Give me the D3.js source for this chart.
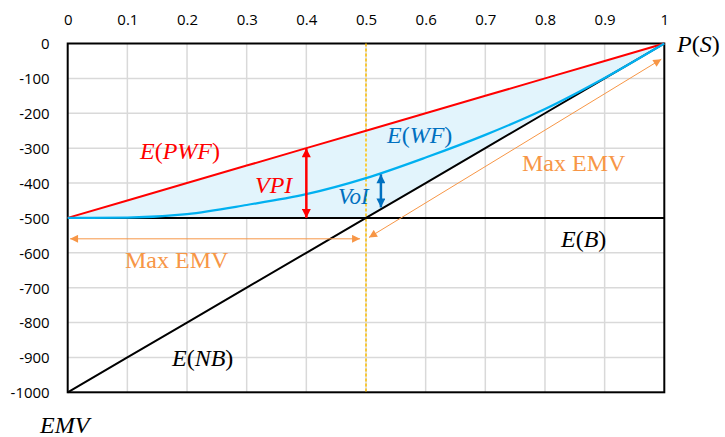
<!DOCTYPE html>
<html>
<head>
<meta charset="utf-8">
<script src="https://cdn.jsdelivr.net/npm/d3@7"></script>
<style>
  body { margin: 0; background: #fff; }
  svg { display: block; }
  .tick text { font-family: "Open Sans", sans-serif; font-size: 15px; fill: #000; }
</style>
</head>
<body>
<svg id="vis" width="725" height="437"></svg>
<script>
// data
var pValues = [0, 0.1, 0.2, 0.3, 0.4, 0.5, 0.6, 0.7, 0.8, 0.9, 1];
var ePWF = [-500, -450, -400, -350, -300, -250, -200, -150, -100, -50, 0];
var eNB  = [-1000, -900, -800, -700, -600, -500, -400, -300, -200, -100, 0];
var eB   = [-500, -500, -500, -500, -500, -500, -500, -500, -500, -500, -500];
var eWF  = [-500, -499, -489, -463, -432, -386, -327, -262, -188, -99, 0];
var xTicks = [0, 0.1, 0.2, 0.3, 0.4, 0.5, 0.6, 0.7, 0.8, 0.9, 1];
var yTicks = [0, -100, -200, -300, -400, -500, -600, -700, -800, -900, -1000];

// arrows: [p1, v1, p2, v2]
var vpiArrow = [0.4, -300, 0.4, -500];
var voiArrow = [0.525, -375, 0.525, -470];
var emvArrowH = [0.004, -560, 0.49, -560];
var emvArrowD = [0.505, -556, 0.995, -45];

var svg = d3.select("#vis");
var x = d3.scaleLinear().domain([0, 1]).range([67.7, 664.3]);
var y = d3.scaleLinear().domain([0, -1000]).range([43.5, 392.3]);

// gridlines
svg.append("g").selectAll("line.gx")
    .data(xTicks.slice(1, -1)).enter().append("line")
    .attr("x1", function(d){ return x(d); }).attr("x2", function(d){ return x(d); })
    .attr("y1", y(0)).attr("y2", y(-1000))
    .attr("stroke", "#d9d9d9").attr("stroke-width", 1.5);
svg.append("g").selectAll("line.gy")
    .data(yTicks.slice(1, -1)).enter().append("line")
    .attr("x1", x(0)).attr("x2", x(1))
    .attr("y1", function(d){ return y(d); }).attr("y2", function(d){ return y(d); })
    .attr("stroke", "#d9d9d9").attr("stroke-width", 1.5);

// axes (labels only)
var xAxis = svg.append("g").attr("transform", "translate(0," + (y(0) - 16) + ")")
    .call(d3.axisTop(x).tickValues(xTicks).tickSize(0).tickFormat(function(d){ return String(d); }));
xAxis.select(".domain").remove();
var yAxis = svg.append("g").attr("transform", "translate(" + (x(0) - 15) + ",0)")
    .call(d3.axisLeft(y).tickValues(yTicks).tickSize(0).tickFormat(function(d){ return String(d); }));
yAxis.select(".domain").remove();
yAxis.selectAll("text").attr("dy", "0.36em");

// shaded area between E(PWF) and max(E(B), E(NB))
var area = d3.area()
    .x(function(d, i){ return x(pValues[i]); })
    .y0(function(d, i){ return y(Math.max(eB[i], eNB[i])); })
    .y1(function(d, i){ return y(ePWF[i]); });
svg.append("path").datum(pValues).attr("d", area).attr("fill", "#e2f4fc");

// frame
svg.append("rect")
    .attr("x", x(0)).attr("y", y(0))
    .attr("width", x(1) - x(0)).attr("height", y(-1000) - y(0))
    .attr("fill", "none").attr("stroke", "#000").attr("stroke-width", 2);

// yellow dashed line at 0.5
svg.append("line")
    .attr("x1", x(0.5)).attr("x2", x(0.5)).attr("y1", y(0)).attr("y2", y(-1000))
    .attr("stroke", "#ffc000").attr("stroke-width", 1.5).attr("stroke-dasharray", "3,2");

function series(vals){
    return d3.line()
        .x(function(d, i){ return x(pValues[i]); })
        .y(function(d){ return y(d); })(vals);
}
function smooth(vals){
    return d3.line().curve(d3.curveMonotoneX)
        .x(function(d, i){ return x(pValues[i]); })
        .y(function(d){ return y(d); })(vals);
}

svg.append("path").attr("d", series(eB)).attr("fill", "none").attr("stroke", "#000").attr("stroke-width", 2);
svg.append("path").attr("d", series(eNB)).attr("fill", "none").attr("stroke", "#000").attr("stroke-width", 2);
svg.append("path").attr("d", series(ePWF)).attr("fill", "none").attr("stroke", "#ff0000").attr("stroke-width", 2);
svg.append("path").attr("d", smooth(eWF)).attr("fill", "none").attr("stroke", "#00b0f0").attr("stroke-width", 2.2);

// arrow markers
var defs = svg.append("defs");
function marker(id, color, w, h){
    defs.append("marker").attr("id", id)
        .attr("viewBox", "0 0 10 10").attr("refX", 10).attr("refY", 5)
        .attr("markerUnits", "userSpaceOnUse")
        .attr("markerWidth", w).attr("markerHeight", h)
        .attr("orient", "auto-start-reverse")
        .append("path").attr("d", "M0,0 L10,5 L0,10 z").attr("fill", color);
}
marker("arRed", "#ff0000", 10, 9);
marker("arBlue", "#0070c0", 10, 9);
marker("arOrange", "#f79646", 9, 8);

function arrow(a, color, w, m){
    svg.append("line")
        .attr("x1", x(a[0])).attr("y1", y(a[1]))
        .attr("x2", x(a[2])).attr("y2", y(a[3]))
        .attr("stroke", color).attr("stroke-width", w)
        .attr("marker-start", "url(#" + m + ")")
        .attr("marker-end", "url(#" + m + ")");
}
arrow(vpiArrow, "#ff0000", 2.5, "arRed");
arrow(voiArrow, "#0070c0", 2.5, "arBlue");
arrow(emvArrowH, "#f79646", 1, "arOrange");
arrow(emvArrowD, "#f79646", 1, "arOrange");

// labels: parts [text, italic]
function mathLabel(px, py, parts, color, size){
    var t = svg.append("text").attr("x", px).attr("y", py)
        .style("font-family", "'Liberation Serif', serif").style("font-size", (size || 23) + "px")
        .attr("fill", color);
    parts.forEach(function(p){
        t.append("tspan").style("font-style", p[1] ? "italic" : "normal").text(p[0]);
    });
}
mathLabel(140, 159, [["E", 1], ["(", 0], ["PWF", 1], [")", 0]], "#ff0000", 24);
mathLabel(255, 193, [["VPI", 1]], "#ff0000", 24);
mathLabel(387, 143, [["E", 1], ["(", 0], ["WF", 1], [")", 0]], "#0070c0", 24);
mathLabel(338, 204, [["VoI", 1]], "#0070c0", 23);
mathLabel(561, 247, [["E", 1], ["(", 0], ["B", 1], [")", 0]], "#000", 24);
mathLabel(172, 366, [["E", 1], ["(", 0], ["NB", 1], [")", 0]], "#000", 24);
mathLabel(677, 52, [["P", 1], ["(", 0], ["S", 1], [")", 0]], "#000", 24);
mathLabel(40, 433, [["EMV", 1]], "#000", 24);
mathLabel(522, 171, [["Max EMV", 0]], "#f79646", 24);
mathLabel(125, 268, [["Max EMV", 0]], "#f79646", 24);
</script>
</body>
</html>
